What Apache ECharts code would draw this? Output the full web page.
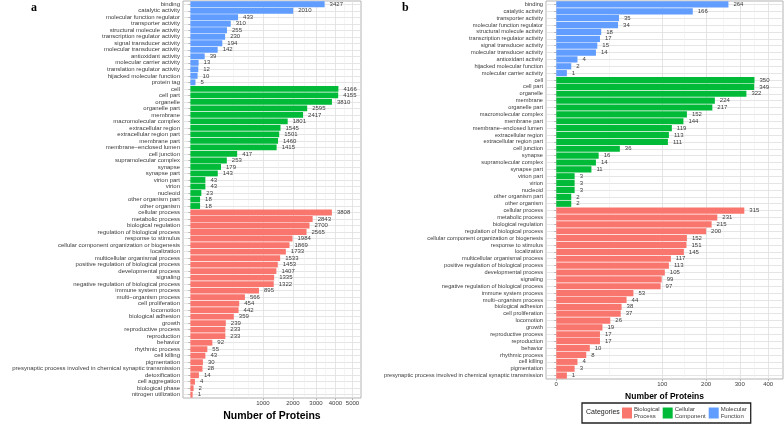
<!DOCTYPE html>
<html>
<head>
<meta charset="utf-8">
<script src="https://cdn.jsdelivr.net/npm/echarts@6/dist/echarts.min.js"></script>
<style>
html, body { margin: 0; padding: 0; background: #fff; }
#main { width: 784px; height: 427px; }
</style>
</head>
<body>
<div id="main"></div>
<script>
// panel a
var aMFNames = ['binding', 'catalytic activity', 'molecular function regulator', 'transporter activity',
  'structural molecule activity', 'transcription regulator activity', 'signal transducer activity',
  'molecular transducer activity', 'antioxidant activity', 'molecular carrier activity',
  'translation regulator activity', 'hijacked molecular function', 'protein tag']
var aMFValues = [3427, 2010, 433, 310, 255, 230, 194, 142, 39, 13, 12, 10, 5]
var aCCNames = ['cell', 'cell part', 'organelle', 'organelle part', 'membrane', 'macromolecular complex',
  'extracellular region', 'extracellular region part', 'membrane part', 'membrane−enclosed lumen',
  'cell junction', 'supramolecular complex', 'synapse', 'synapse part', 'virion part', 'virion',
  'nucleoid', 'other organism part', 'other organism']
var aCCValues = [4166, 4155, 3810, 2595, 2417, 1801, 1545, 1501, 1460, 1415, 417, 253, 179, 143, 43, 43, 23, 18, 18]
var aBPNames = ['cellular process', 'metabolic process', 'biological regulation', 'regulation of biological process',
  'response to stimulus', 'cellular component organization or biogenesis', 'localization',
  'multicellular organismal process', 'positive regulation of biological process', 'developmental process',
  'signaling', 'negative regulation of biological process', 'immune system process', 'multi−organism process',
  'cell proliferation', 'locomotion', 'biological adhesion', 'growth', 'reproductive process', 'reproduction',
  'behavior', 'rhythmic process', 'cell killing', 'pigmentation',
  'presynaptic process involved in chemical synaptic transmission', 'detoxification', 'cell aggregation',
  'biological phase', 'nitrogen utilization']
var aBPValues = [3808, 2843, 2700, 2565, 1984, 1869, 1733, 1533, 1453, 1407, 1335, 1322, 895, 566, 454, 442,
  359, 239, 233, 233, 92, 55, 43, 30, 28, 14, 4, 2, 1]

// panel b
var bMFNames = ['binding', 'catalytic activity', 'transporter activity', 'molecular function regulator',
  'structural molecule activity', 'transcription regulator activity', 'signal transducer activity',
  'molecular transducer activity', 'antioxidant activity', 'hijacked molecular function', 'molecular carrier activity']
var bMFValues = [264, 166, 35, 34, 18, 17, 15, 14, 4, 2, 1]
var bCCNames = ['cell', 'cell part', 'organelle', 'membrane', 'organelle part', 'macromolecular complex',
  'membrane part', 'membrane−enclosed lumen', 'extracellular region', 'extracellular region part',
  'cell junction', 'synapse', 'supramolecular complex', 'synapse part', 'virion part', 'virion',
  'nucleoid', 'other organism part', 'other organism']
var bCCValues = [350, 349, 322, 224, 217, 152, 144, 119, 113, 111, 36, 16, 14, 11, 3, 3, 3, 2, 2]
var bBPNames = ['cellular process', 'metabolic process', 'biological regulation', 'regulation of biological process',
  'cellular component organization or biogenesis', 'response to stimulus', 'localization',
  'multicellular organismal process', 'positive regulation of biological process', 'developmental process',
  'signaling', 'negative regulation of biological process', 'immune system process', 'multi−organism process',
  'biological adhesion', 'cell proliferation', 'locomotion', 'growth', 'reproductive process', 'reproduction',
  'behavior', 'rhythmic process', 'cell killing', 'pigmentation',
  'presynaptic process involved in chemical synaptic transmission']
var bBPValues = [315, 231, 215, 200, 152, 151, 145, 117, 113, 105, 99, 97, 53, 44, 38, 37, 26, 19, 17, 17, 10, 8, 4, 3, 1]

var aTicks = [1000, 2000, 3000, 4000, 5000]
var bTicks = [0, 100, 200, 300, 400]

var groupNames = ['Biological Process', 'Cellular Component', 'Molecular Function']
var groupColors = ['#F8766D', '#00BA38', '#619CFF']

var textColor = '#3b3b3b'
var lineGrey = '#B3B3B3'
var font = 'Liberation Sans'

// rows top to bottom: MF, CC, BP ; group index 0=BP 1=CC 2=MF
function panelRows (mfN, mfV, ccN, ccV, bpN, bpV) {
  var rows = { cats: [], group: [], values: [] }
  function add (names, vals, g) {
    names.forEach(function (n, i) {
      rows.cats.push(n)
      rows.group.push(g)
      rows.values.push(vals[i])
    })
  }
  add(mfN, mfV, 2)
  add(ccN, ccV, 1)
  add(bpN, bpV, 0)
  return rows
}

// minor breaks like ggplot, in sqrt space
function minorBreaks (ticks, lo, hi) {
  var b = ticks.map(Math.sqrt)
  var bd = b[1] - b[0]
  if (lo < b[0]) b.unshift(b[0] - bd)
  if (hi > b[b.length - 1]) b.push(b[b.length - 1] + bd)
  var out = []
  for (var i = 0; i < b.length - 1; i++) {
    out.push(b[i], (b[i] + b[i + 1]) / 2)
  }
  var major = ticks.map(Math.sqrt)
  return out.filter(function (v) {
    return v >= lo && v <= hi && major.every(function (m) { return Math.abs(m - v) > 1e-6 })
  })
}

function xAxes (gridIndex, lo, hi, ticks, title, titleSize) {
  var major = ticks.map(Math.sqrt)
  return [{
    type: 'value',
    gridIndex: gridIndex,
    min: lo,
    max: hi,
    name: title,
    nameLocation: 'middle',
    nameGap: 13,
    nameTextStyle: { fontWeight: 'bold', fontSize: titleSize, color: '#000', fontFamily: font },
    axisLine: { show: false },
    axisTick: { show: true, customValues: major, length: 2, lineStyle: { color: lineGrey } },
    axisLabel: {
      customValues: major,
      formatter: function (v) { return Math.round(v * v) },
      fontSize: 6,
      color: textColor,
      fontFamily: font,
      margin: 2
    },
    splitLine: { show: true, lineStyle: { color: '#DEDEDE', width: 0.8 } }
  }, {
    type: 'value',
    gridIndex: gridIndex,
    min: lo,
    max: hi,
    position: 'bottom',
    axisLine: { show: false },
    axisTick: { show: false, customValues: minorBreaks(ticks, lo, hi) },
    axisLabel: { show: false },
    splitLine: { show: true, lineStyle: { color: '#EBEBEB', width: 0.5 } }
  }]
}

function yAxis (gridIndex, cats, size) {
  return {
    type: 'category',
    gridIndex: gridIndex,
    inverse: true,
    data: cats,
    axisLine: { show: false },
    axisTick: { show: true, alignWithLabel: true, interval: 0, length: 2, lineStyle: { color: lineGrey } },
    axisLabel: { interval: 0, fontSize: size, color: textColor, fontFamily: font, margin: 3 },
    splitLine: { show: true, interval: 0, alignWithLabel: true, lineStyle: { color: '#DEDEDE', width: 0.8 } }
  }
}

function barSeries (rows, xIdx, yIdx) {
  return groupNames.map(function (name, g) {
    return {
      type: 'bar',
      name: name,
      xAxisIndex: xIdx,
      yAxisIndex: yIdx,
      barWidth: '90%',
      barGap: '-100%',
      itemStyle: { color: groupColors[g] },
      label: {
        show: true,
        position: 'right',
        distance: 5,
        fontSize: 6,
        color: textColor,
        fontFamily: font,
        formatter: function (p) { return Math.round(p.value * p.value) }
      },
      data: rows.values.map(function (v, i) {
        return rows.group[i] === g ? Math.sqrt(v) : '-'
      })
    }
  })
}

var rowsA = panelRows(aMFNames, aMFValues, aCCNames, aCCValues, aBPNames, aBPValues)
var rowsB = panelRows(bMFNames, bMFValues, bCCNames, bCCValues, bBPNames, bBPValues)

var chart = echarts.init(document.getElementById('main'))
var option = {
  animation: false,
  backgroundColor: '#fff',
  textStyle: { fontFamily: font },
  grid: [
    { left: 183, right: 423, top: 1, bottom: 18, show: true, borderColor: lineGrey, borderWidth: 1 },
    { left: 546, right: 1, top: 1, bottom: 48, show: true, borderColor: lineGrey, borderWidth: 1 }
  ],
  xAxis: xAxes(0, -3.2, 74.4, aTicks, 'Number of Proteins', 10.5)
    .concat(xAxes(1, -0.97, 21.4, bTicks, 'Number of Proteins', 8.5)),
  yAxis: [yAxis(0, rowsA.cats, 6), yAxis(1, rowsB.cats, 5.7)],
  legend: {
    data: groupNames,
    left: 582,
    top: 403,
    orient: 'horizontal',
    padding: [3, 4, 3, 40],
    borderColor: '#222',
    borderWidth: 1.3,
    itemWidth: 10,
    itemHeight: 11,
    itemGap: 3,
    icon: 'rect',
    selectedMode: false,
    formatter: function (name) { return name.replace(' ', '\n') },
    textStyle: { fontSize: 6, lineHeight: 7, color: textColor, fontFamily: font, padding: [0, 0, 0, -3] }
  },
  graphic: [
    { type: 'text', left: 31, top: 2, style: { text: 'a', font: 'bold 12px "Liberation Serif"', fill: '#000' } },
    { type: 'text', left: 402, top: 2, style: { text: 'b', font: 'bold 12px "Liberation Serif"', fill: '#000' } },
    { type: 'text', left: 586, top: 409, style: { text: 'Categories', font: '7px "Liberation Sans"', fill: '#222' } }
  ],
  series: barSeries(rowsA, 0, 0).concat(barSeries(rowsB, 2, 1))
}
chart.setOption(option)
</script>
</body>
</html>
